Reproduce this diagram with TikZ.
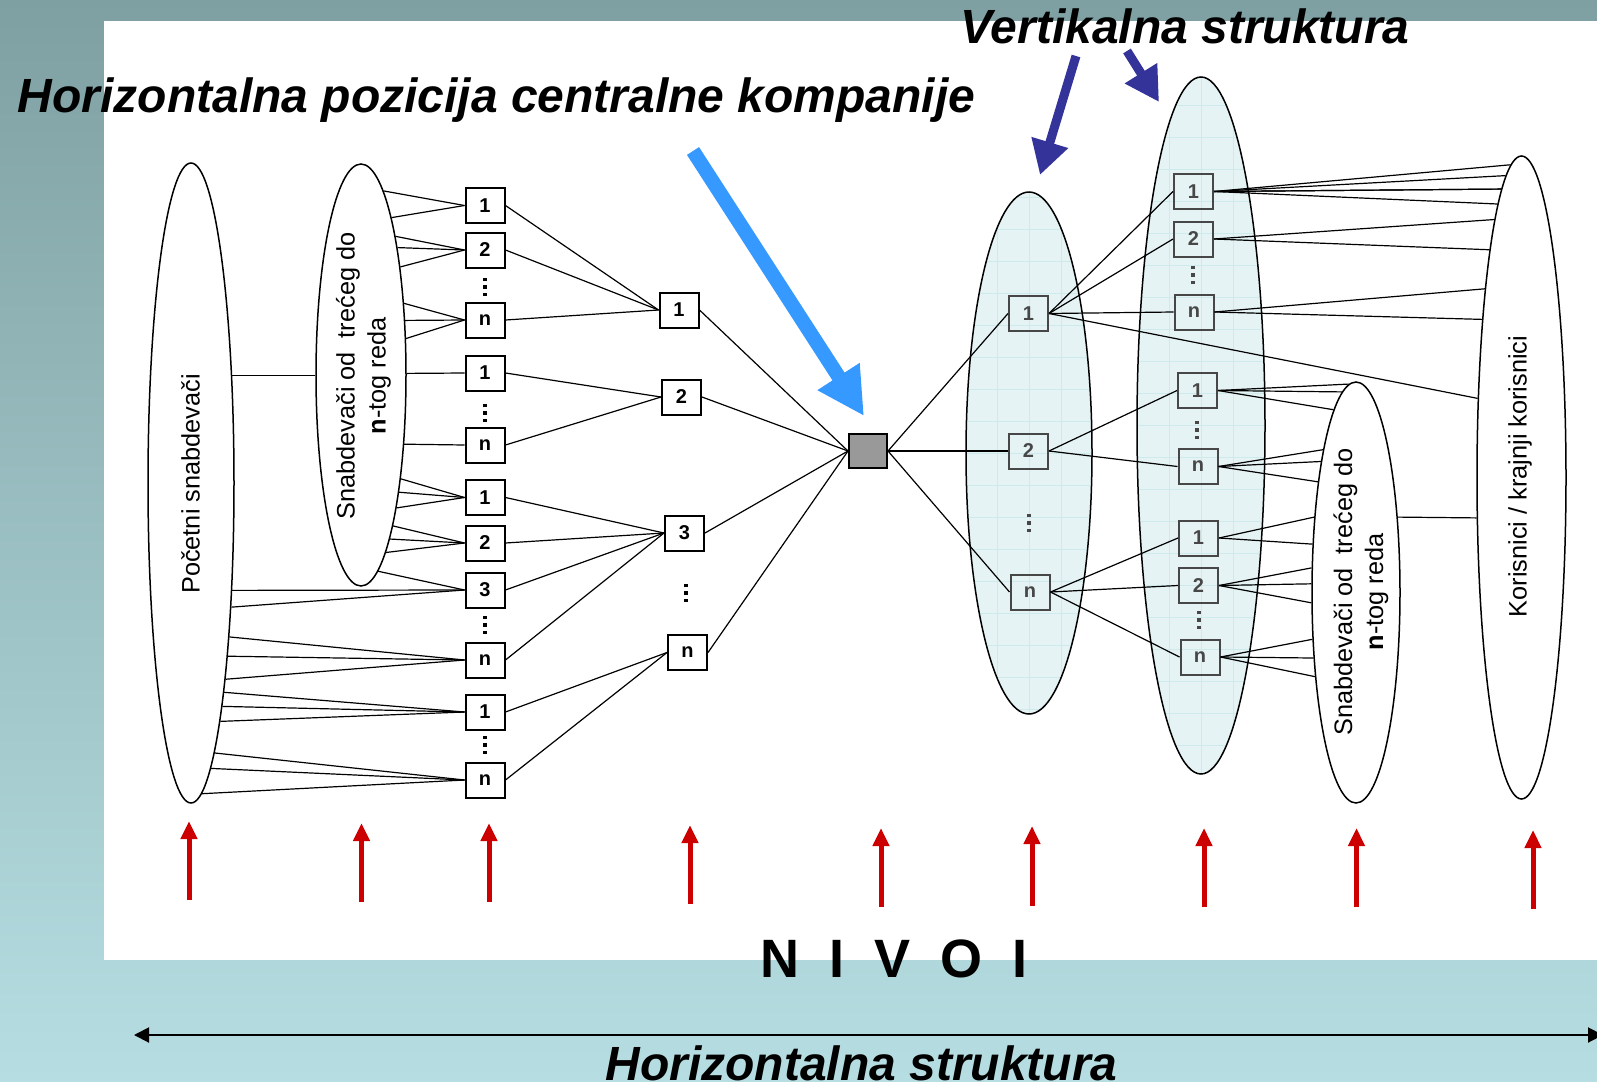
\documentclass[tikz,border=0pt]{standalone}
\usepackage{fontspec}
\setmainfont{Liberation Sans}
\usetikzlibrary{arrows.meta,shapes.geometric}

\definecolor{bgtop}{RGB}{127,160,162}
\definecolor{bgbot}{RGB}{182,222,226}
\definecolor{vfill}{RGB}{229,243,244}
\definecolor{vgridc}{RGB}{205,234,236}
\definecolor{bluearr}{RGB}{54,153,255}
\definecolor{navyarr}{RGB}{51,51,153}
\definecolor{redarr}{RGB}{204,0,0}

\newcommand{\vdts}{\vbox{\hrule height 1.6pt width 1.6pt\vskip 2pt
  \hrule height 1.6pt width 1.6pt\vskip 2pt\hrule height 1.6pt width 1.6pt}}

\tikzset{
  ell/.style={ellipse,draw,line width=0.75pt,inner sep=0pt},
  vell/.style={ell,fill=vfill,path picture={\draw[vgridc,line width=0.4pt,step=16pt]
      (path picture bounding box.south west) grid (path picture bounding box.north east);}},
  etext/.style={rotate=90,align=center,inner sep=0pt,font=\fontsize{12.65}{15.5}\selectfont},
  lbox/.style={draw,line width=1pt,fill=white,minimum width=19.5pt,minimum height=17.5pt,
      inner sep=0pt,font=\fontsize{10}{12}\selectfont\bfseries},
  rbox/.style={lbox,fill=none,draw=black!72,text=black!72},
  dts/.style={inner sep=0pt},
  core/.style={draw,line width=1pt,fill=gray!80,minimum width=19pt,minimum height=17pt,inner sep=0pt},
  link/.style={line width=0.6pt},
  ttl/.style={anchor=base,inner sep=0pt,font=\fontsize{24}{28}\selectfont\bfseries\itshape},
  lvl/.style={redarr,line width=2.5pt,-{Triangle[length=9pt,width=8pt]}}
}

\begin{document}
\begin{tikzpicture}[x=0.5pt,y=-0.5pt]
\useasboundingbox (0,0) rectangle (1597,1082);
\shade[top color=bgtop,bottom color=bgbot] (0,0) rectangle (1597,1082);
\fill[white] (104,21) rectangle (1597,960);

% naslovi
\node[ttl] (htop) at (496.5,112) {Horizontalna pozicija centralne kompanije};
\node[ttl] (vtop) at (1185,43) {Vertikalna struktura};
\node[ttl] (hbot) at (861.5,1080) {Horizontalna struktura};
\node[anchor=base,inner sep=0pt,font=\fontsize{27}{30}\selectfont\bfseries] (nivoi) at (894,977) {N~~I~~V~~O~~I};

% elipse
\node[ell,minimum width=43pt,minimum height=320pt] (sup1) at (191,483) {};
\node[ell,minimum width=45pt,minimum height=211pt] (sup2) at (361,375) {};
\node[vell,minimum width=63pt,minimum height=261pt] (vrA) at (1029,453) {};
\node[vell,minimum width=64pt,minimum height=348.5pt] (vrB) at (1201,425.5) {};
\node[ell,minimum width=44pt,minimum height=210.5pt] (sup3) at (1356,592.5) {};
\node[ell,minimum width=44.5pt,minimum height=321.5pt] (usr) at (1521.5,477.5) {};

\node[etext] (sup1t) at (190.5,484) {Početni snabdevači};
\node[etext] (sup2t) at (363.5,376) {Snabdevači od~~trećeg do\\\textbf{n}-tog reda};
\node[etext] (sup3t) at (1361,592) {Snabdevači od~~trećeg do\\\textbf{n}-tog reda};
\node[etext] (usrt) at (1520,476.5) {Korisnici / krajnji korisnici};

% lijeva strana
\foreach \n/\y/\t in {g1a/205.5/1,g1b/250/2,g1n/320/n,g2a/373/1,g2n/445/n,g3a/497.5/1,
    g3b/543/2,g3c/590/3,g3n/660/n,g4a/712/1,g4n/780/n}
  \node[lbox] (\n) at (485,\y) {\t};
\foreach \y in {287,413,625,745}
  \node[dts] (dl\y) at (485,\y) {\vdts};
\node[lbox] (t1) at (679,310) {1};
\node[lbox] (t2) at (681.5,397) {2};
\node[lbox] (t3) at (684.5,533) {3};
\node[lbox] (tn) at (687.5,652.5) {n};
\node[dts] (dt) at (686,593) {\vdts};
\node[core] (core) at (868,451) {};

% desna strana
\node[rbox] (va1) at (1028.5,313.5) {1};
\node[rbox] (va2) at (1028.5,451) {2};
\node[rbox] (van) at (1030,592) {n};
\node[dts,text=black!72] (dva) at (1029,523) {\vdts};
\foreach \n/\x/\y/\t in {vb1/1193.5/191.5/1,vb2/1193.5/239/2,vbn/1194/312/n,vc1/1197.5/390.5/1,
    vcn/1198/466.5/n,vd1/1198.5/538/1,vd2/1198.5/585.5/2,vdn/1200/657/n}
  \node[rbox] (\n) at (\x,\y) {\t};
\foreach \n/\x/\y in {dvb/1193/275,dvc/1197/430,dvd/1199/620}
  \node[dts,text=black!72] (\n) at (\x,\y) {\vdts};

% veze lijevo
\draw[link] (sup1.69.3) -- (sup1.69.3 -| sup2.west);
\foreach \a in {83.2,79.1} \draw[link] (sup2.\a) -- (g1a.west);
\foreach \a in {76.8,74.0,70.3} \draw[link] (sup2.\a) -- (g1b.west);
\foreach \a in {59.6,51.7,39.9} \draw[link] (sup2.\a) -- (g1n.west);
\draw[link] (sup2.2) -- (g2a.west);
\draw[link] (sup2.-58.7) -- (g2n.west);
\foreach \a in {-69.9,-72.9,-75.8} \draw[link] (sup2.\a) -- (g3a.west);
\foreach \a in {-78.4,-80.6,-82.9} \draw[link] (sup2.\a) -- (g3b.west);
\draw[link] (sup2.-85.9) -- (g3c.west);
\foreach \a in {-69.4,-72.4} \draw[link] (sup1.\a) -- (g3c.west);
\foreach \a in {-76.7,-78.6,-80.2} \draw[link] (sup1.\a) -- (g3n.west);
\foreach \a in {-81.3,-82.5,-83.5} \draw[link] (sup1.\a) -- (g4a.west);
\foreach \a in {-85.8,-86.9,-88.0} \draw[link] (sup1.\a) -- (g4n.west);
\foreach \n in {g1a,g1b,g1n} \draw[link] (\n.east) -- (t1.west);
\foreach \n in {g2a,g2n} \draw[link] (\n.east) -- (t2.west);
\foreach \n in {g3a,g3b,g3c,g3n} \draw[link] (\n.east) -- (t3.west);
\foreach \n in {g4a,g4n} \draw[link] (\n.east) -- (tn.west);
\foreach \n in {t1,t2,t3,tn} \draw[link] (\n.east) -- (core.west);

% veze desno
\foreach \n in {va1,va2,van} \draw[link] (core.east) -- (\n.west);
\foreach \n in {vb1,vb2,vbn} \draw[link] (va1.east) -- (\n.west);
\draw[link] (va1.east) -- (usr.119.1);
\foreach \n in {vc1,vcn} \draw[link] (va2.east) -- (\n.west);
\foreach \n in {vd1,vd2,vdn} \draw[link] (van.east) -- (\n.west);
\foreach \a in {92.4,93.3,94.0,94.8,95.6} \draw[link] (vb1.east) -- (usr.\a);
\foreach \a in {96.7,98.4} \draw[link] (vb2.east) -- (usr.\a);
\foreach \a in {101.4,104.9} \draw[link] (vbn.east) -- (usr.\a);
\foreach \a in {92.6,94.9,97.7} \draw[link] (vc1.east) -- (sup3.\a);
\foreach \a in {103.3,105.7,109.0} \draw[link] (vcn.east) -- (sup3.\a);
\foreach \a in {119.3,132.7} \draw[link] (vd1.east) -- (sup3.\a);
\foreach \a in {151.7,169.1,193.4} \draw[link] (vd2.east) -- (sup3.\a);
\foreach \a in {227.3,237.0,244.5} \draw[link] (vdn.east) -- (sup3.\a);
\draw[link] (sup3.61.1) -- (usr.222.6);

% strelice
\coordinate (bl0) at (693,151);
\coordinate (bl1) at (864,416);
\draw[bluearr,line width=7.2pt,-{Triangle[length=23.5pt,width=23.5pt]}] (bl0) -- (bl1);
\coordinate (nv0) at (1076,56);
\coordinate (nv1) at (1040,175);
\coordinate (nw0) at (1127,51);
\coordinate (nw1) at (1159,102);
\begin{scope}[navyarr,line width=4.5pt,-{Triangle[length=17pt,width=18pt]}]
  \draw (nv0) -- (nv1);
  \draw (nw0) -- (nw1);
\end{scope}
\foreach \x/\b/\t in {189/900/821,361.5/902/823,489/902/823,690/904/825,881/907/828,
    1032/906/826,1204/907/828,1356.5/907/828,1533/909/830}
  \draw[lvl] (\x,\b) -- (\x,\t);
\coordinate (hl) at (134,1035);
\coordinate (hr) at (1603,1035);
\draw[line width=1pt,{Triangle[length=7.5pt,width=7.5pt]}-{Triangle[length=7.5pt,width=7.5pt]}] (hl) -- (hr);
\end{tikzpicture}
\end{document}
